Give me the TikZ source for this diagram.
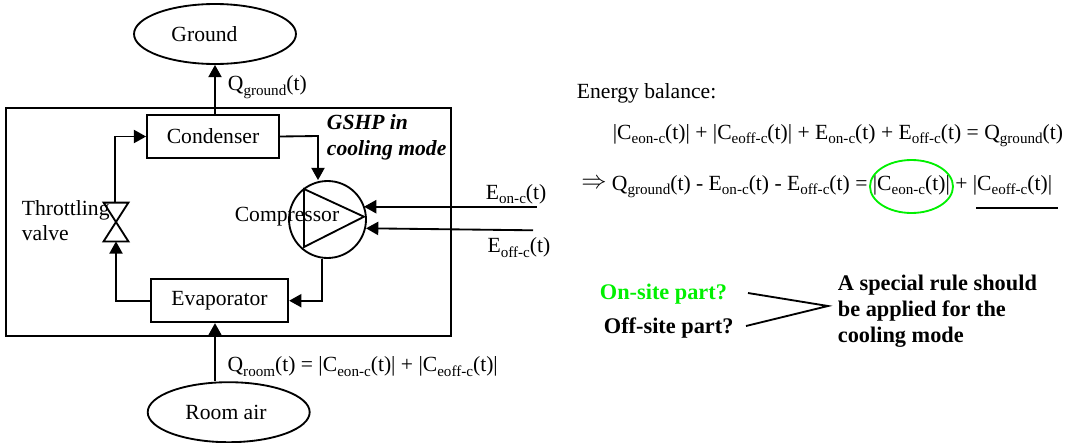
\documentclass[tikz,border=0pt]{standalone}
\usepackage{fontspec}
\setmainfont{Liberation Serif}
\usetikzlibrary{arrows.meta,shapes.geometric}
\newcommand{\lowtext}[1]{\raisebox{-0.22em}{\fontsize{8.6}{8.6}\selectfont #1}}
\definecolor{brightgreen}{RGB}{0,240,0}

\begin{document}
\begin{tikzpicture}[x=0.02cm,y=-0.02cm,line width=1.05pt,>={Triangle[length=7pt,width=7.5pt]},
	font=\fontsize{12.3}{15}\selectfont,
	unit/.style={draw,rectangle,inner sep=0pt},
	air/.style={draw,ellipse,inner sep=0pt,minimum width=3.24cm,minimum height=1.2cm},
	txt/.style={inner sep=0pt,anchor=base west},
	boldtxt/.style={inner sep=0pt,anchor=base west,font=\fontsize{12.7}{15}\selectfont\bfseries}
	]
	\useasboundingbox (0,0) rectangle (1086,443);

	\node[unit,minimum width=8.89cm,minimum height=4.56cm] (pump) at (228.4,222){};

	\node[air] (ground) at (215,34){};
	\node[air] (room) at (228.7,412.2){};
	\node[unit,minimum width=2.64cm,minimum height=0.86cm] (cond) at (213,136.5){Condenser};
	\node[unit,minimum width=2.75cm,minimum height=0.86cm] (evap) at (219.5,300.7){Evaporator};
	\node[draw,circle,inner sep=0pt,minimum size=1.54cm] (comp) at (327.5,219.5){};
	\node[inner sep=0pt,minimum width=0.46cm,minimum height=0.74cm] (valve) at (116,222){};

	\coordinate (t1) at (304,189);
	\coordinate (t2) at (304,247);
	\coordinate (t3) at (364,216.7);
	\coordinate (eon) at (536.7,206.7);
	\coordinate (eoff) at (533,230.3);
	\coordinate (eoffend) at (366,228.3);
	\coordinate (condbend) at (318,136);
	\coordinate (evapbend) at (322,300.7);

	\draw (t1) -- (t2) -- (t3) -- cycle;
	\draw (valve.north west) -- (valve.north east) -- (valve.south west) -- (valve.south east) -- cycle;

	\draw[->] (cond.north -| ground.south) -- (ground.south);
	\draw[->] (room.north -| ground.south) -- (evap.south -| ground.south);
	\draw[->] (cond.east) -- (condbend) -- (condbend |- comp.north);
	\draw[->] ([xshift=-0.02cm]valve.north) |- (cond.west);
	\draw[->] (evap.west) -| (valve.south);
	\draw[->] (evapbend |- comp.south) -- (evapbend) -- (evap.east);
	\draw[->] (eon) -- (eon -| t3);
	\draw[->] (eoff) -- (eoffend);

	\node (groundtxt) at (204.5,34){Ground};
	\node (roomtxt) at (226,412.5){Room air};
	\node (comptxt) at (287,217){Compressor};
	\node[txt] (throttle) at (21,215.7){Throttling};
	\node[txt] (valvetxt) at (21,240.7){valve};
	\node[txt] (qground) at (227,90.7){Q\lowtext{ground}(t)};
	\node[txt] (qroom) at (226.7,371.7){Q\lowtext{room}(t) = |C\lowtext{eon-c}(t)| + |C\lowtext{eoff-c}(t)|};
	\node[txt] (eontxt) at (485,199){E\lowtext{on-c}(t)};
	\node[txt] (eofftxt) at (486.7,252.7){E\lowtext{off-c}(t)};
	\node[txt,font=\fontsize{12.3}{15}\selectfont\bfseries\itshape] (gshp) at (326,129.3){GSHP in};
	\node[txt,font=\fontsize{12.3}{15}\selectfont\bfseries\itshape] (mode) at (326,155){cooling mode};

	\node[txt] (balance) at (576,98){Energy balance:};
	\node[txt] (eqone) at (612,139){|C\lowtext{eon-c}(t)| + |C\lowtext{eoff-c}(t)| + E\lowtext{on-c}(t) + E\lowtext{off-c}(t) = Q\lowtext{ground}(t)};
	\node[txt] (eqtwo) at (611,190){Q\lowtext{ground}(t) - E\lowtext{on-c}(t) - E\lowtext{off-c}(t) = |C\lowtext{eon-c}(t)| + |C\lowtext{eoff-c}(t)|};
	\node[inner sep=0pt] (implies) at (594,184){\fontsize{15}{15}\selectfont$\Rightarrow$};

	\node[draw=brightgreen,ellipse,inner sep=0pt,minimum width=1.66cm,minimum height=1.06cm] (oval) at (911.5,186.5){};
	\coordinate (ul1) at (976,208);
	\coordinate (ul2) at (1058,208);
	\draw (ul1) -- (ul2);

	\node[boldtxt,text=brightgreen] (onsite) at (599,299){On-site part?};
	\node[boldtxt] (offsite) at (603,333){Off-site part?};
	\node[boldtxt] (rule1) at (837,290){A special rule should};
	\node[boldtxt] (rule2) at (837,316){be applied for the};
	\node[boldtxt] (rule3) at (837,342){cooling mode};

	\coordinate (f1) at (748,293);
	\coordinate (f2) at (746,326);
	\coordinate (f3) at (828,306);
	\draw (f1) -- (f3) -- (f2);
\end{tikzpicture}
\end{document}
